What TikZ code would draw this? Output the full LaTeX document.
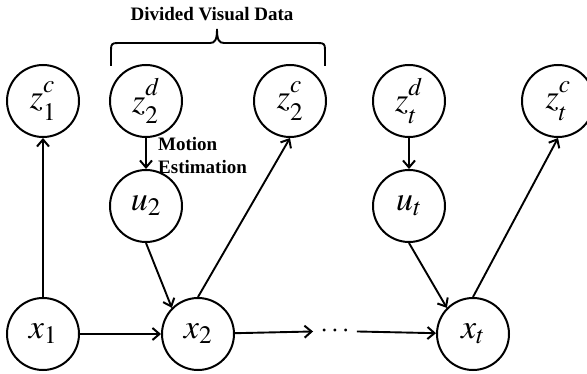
\documentclass[tikz,border=0pt]{standalone}
\usepackage{mathptmx}
\usepackage[no-math]{fontspec}
\setmainfont{Liberation Serif}
\usetikzlibrary{arrows.meta}

\newcommand{\obsv}[2]{$z^{\raisebox{4pt}{$\scriptstyle #1$}}_{\raisebox{-3pt}{$\scriptstyle #2$}}$}

\begin{document}
\begin{tikzpicture}[x=1pt,y=-1pt,
  var/.style={draw,circle,line width=2pt,minimum size=72pt,inner sep=0pt,font=\fontsize{34}{36}\selectfont},
  arr/.style={-{Straight Barb[length=7pt,width=12pt,line width=2pt]},line width=1.9pt},
  note/.style={font=\fontsize{19}{23}\selectfont\bfseries,inner sep=0pt}]
  \useasboundingbox (0,0) rectangle (587,374);
  % observations
  \node[var] (z1c) at (43,101) {\obsv{c}{1}};
  \node[var] (z2d) at (146,101) {\obsv{d}{2}};
  \node[var] (z2c) at (290,101) {\obsv{c}{2}};
  \node[var] (ztd) at (409,101) {\obsv{d}{t}};
  \node[var] (ztc) at (558,101) {\obsv{c}{t}};
  % motion
  \node[var] (u2) at (146,206) {$u_2$};
  \node[var] (ut) at (409,206) {$u_t$};
  % states
  \node[var] (x1) at (43,334) {$x_1$};
  \node[var] (x2) at (198,334) {$x_2$};
  \node[var] (xt) at (473,334) {$x_t$};
  \node[inner sep=7pt,font=\fontsize{28}{30}\selectfont] (dots) at (335,331) {$\cdots$};
  \draw[arr] (x1) -- (x2);
  \draw[arr] (x2) -- (dots);
  \draw[arr] (dots) -- (xt);
  \draw[arr] (x1) -- (z1c);
  \draw[arr] (x2.north) -- (z2c.south);
  \draw[arr] (xt.north) -- (ztc.south);
  \draw[arr] (z2d) -- (u2);
  \draw[arr] (ztd) -- (ut);
  \draw[arr] (u2.south) -- (x2.135);
  \draw[arr] (ut.south) -- (xt.135);
  \node[note,anchor=north west,align=left] (motion) at (158,137) {Motion\\Estimation};
  % divided data bracket
  \draw[line width=1.9pt] (111,66) -- (111,50) .. controls (111,44) and (112,43) .. (118,43)
    -- (210,43) .. controls (215,43) and (217,40) .. (217,29)
    .. controls (217,40) and (219,43) .. (224,43) -- (318,43)
    .. controls (324,43) and (325,44) .. (325,50) -- (325,66);
  \node[note] (title) at (212,14) {Divided Visual Data};
\end{tikzpicture}
\end{document}
